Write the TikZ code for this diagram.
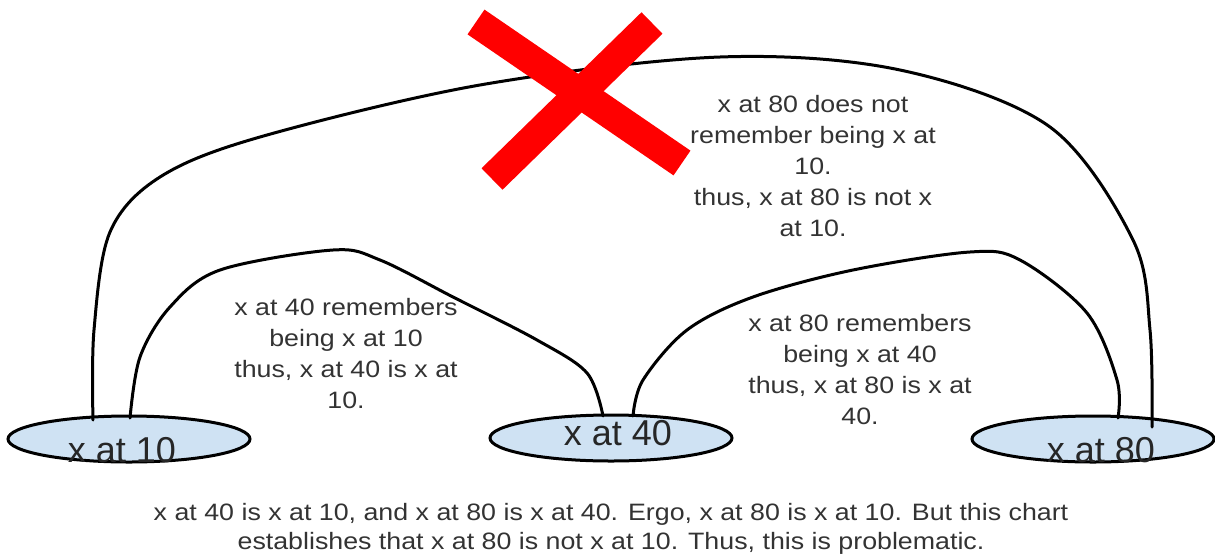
\documentclass[tikz,border=0pt]{standalone}
\usepackage{fontspec}
\setmainfont{Liberation Sans}
\newfontfamily\widefont[FakeStretch=1.13]{Liberation Sans}
\usetikzlibrary{shapes.geometric,calc}
\definecolor{ellfill}{HTML}{CFE2F3}
\definecolor{txt}{HTML}{333333}
\definecolor{xred}{HTML}{FF0000}
\tikzset{
  blob/.style={ellipse, draw=black, line width=3pt, fill=ellfill, minimum width=242pt, minimum height=46pt, inner sep=0pt},
  blobtext/.style={anchor=base, inner sep=0pt, text=black!85, font=\fontsize{36pt}{40pt}\selectfont},
  link/.style={line width=3pt, black, line cap=round},
  note/.style={anchor=base, inner sep=0pt, align=center, text=txt, font=\widefont\fontsize{23.7pt}{31pt}\selectfont},
  bar/.style={line width=30pt, xred}
}
\begin{document}
\begin{tikzpicture}[x=1pt, y=-1pt]
\useasboundingbox (0,0) rectangle (1215,557);

% ellipses
\node[blob] (e10) at (129,439) {};
\node[blob] (e40) at (611,438) {};
\node[blob] (e80) at (1093,439) {};

% connectors
\coordinate (b0) at ($(e10.center)+(-36,-19)$);
\coordinate (b1) at ($(e80.center)+(59,-12)$);
\draw[link] plot[smooth, tension=0.55] coordinates {(b0) (94,330) (110,232) (160,177) (260,137) (480,85) (720,57) (900,70) (1050,127) (1133,240) (1150,330) (b1)};

\coordinate (l0) at ($(e10.center)+(1,-21)$);
\coordinate (l1) at ($(e40.center)+(-8,-22)$);
\draw[link] plot[smooth, tension=0.55] coordinates {(l0) (140,357) (170,307) (220,270) (333,250) (380,260) (453,297) (537,340) (587,373) (l1)};

\coordinate (r0) at ($(e40.center)+(22,-22)$);
\coordinate (r1) at ($(e80.center)+(25,-21)$);
\draw[link] plot[smooth, tension=0.55] coordinates {(r0) (643,380) (687,330) (753,297) (853,270) (970,252) (1020,260) (1087,313) (1117,380) (r1)};

% ellipse labels
\node[blobtext] (t10) at ($(e10.center)+(-7,23)$) {x at 10};
\node[blobtext] (t40) at ($(e40.center)+(7,7)$) {x at 40};
\node[blobtext] (t80) at ($(e80.center)+(8,23)$) {x at 80};

% red cross
\coordinate (x1a) at (476,22);
\coordinate (x1b) at (682,163);
\coordinate (x2a) at (652,23);
\coordinate (x2b) at (492,179);
\draw[bar] (x1a) -- (x1b);
\draw[bar] (x2a) -- (x2b);

% texts (anchor = baseline of last line)
\node[note] (n80) at (813,236) {x at 80 does not\\remember being x at\\10.\\thus, x at 80 is not x\\at 10.};
\node[note] (n40) at (346,408) {x at 40 remembers\\being x at 10\\thus, x at 40 is x at\\10.};
\node[note] (n8040) at (860,424) {x at 80 remembers\\being x at 40\\thus, x at 80 is x at\\40.};
\node[note, font=\widefont\fontsize{23.7pt}{29pt}\selectfont] (bottom) at (611,549) {x at 40 is x at 10, and x at 80 is x at 40. Ergo, x at 80 is x at 10. But this chart\\establishes that x at 80 is not x at 10. Thus, this is problematic.};
\end{tikzpicture}
\end{document}
